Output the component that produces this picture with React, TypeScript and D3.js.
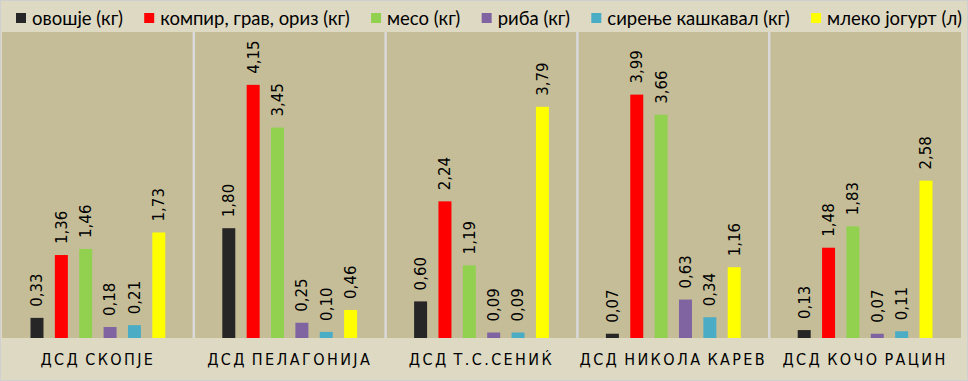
import React, { useEffect, useRef } from "react";
import * as d3 from "d3";

const categories = ["ДСД СКОПЈЕ", "ДСД ПЕЛАГОНИЈА", "ДСД Т.С.СЕНИЌ", "ДСД НИКОЛА КАРЕВ", "ДСД КОЧО РАЦИН"];
const seriesNames = ["овошје (кг)", "компир, грав, ориз (кг)", "месо (кг)", "риба (кг)", "сирење кашкавал (кг)", "млеко јогурт (л)"];
const seriesColors = ["#262626", "#ff0000", "#92d050", "#8064a2", "#4bacc6", "#ffff00"];
const ovoshje = [0.33, 1.8, 0.6, 0.07, 0.13];
const kompir = [1.36, 4.15, 2.24, 3.99, 1.48];
const meso = [1.46, 3.45, 1.19, 3.66, 1.83];
const riba = [0.18, 0.25, 0.09, 0.63, 0.07];
const sirenje = [0.21, 0.1, 0.09, 0.34, 0.11];
const mleko = [1.73, 0.46, 3.79, 1.16, 2.58];
const seriesValues = [ovoshje, kompir, meso, riba, sirenje, mleko];

const W = 968;
const H = 381;

export default function App() {
  const ref = useRef<SVGSVGElement>(null);
  useEffect(() => {
    document.body.style.margin = "0";
    const svg = d3.select(ref.current);
    svg.selectAll("*").remove();

    const plot = { left: 2, right: 961, top: 32, bottom: 338 };

    svg.append("rect").attr("x", 0.5).attr("y", 0.5).attr("width", W - 1).attr("height", H - 1)
      .attr("fill", "#ddd9c3").attr("stroke", "#d0d0d0");

    const x0 = d3.scaleBand<string>().domain(categories).range([plot.left, plot.right]).padding(0);
    const x1 = d3.scaleBand<string>().domain(seriesNames).range([0, x0.bandwidth()]).paddingInner(0.467).paddingOuter(1.17);
    const y = d3.scaleLinear().domain([0, 5]).range([plot.bottom, plot.top + 1]);

    svg.append("rect").attr("x", plot.left).attr("y", plot.top).attr("width", plot.right - plot.left)
      .attr("height", plot.bottom - plot.top).attr("fill", "#c4bd97");

    // separators
    svg.append("g").selectAll("line").data(categories.slice(1)).join("line")
      .attr("x1", (d) => x0(d)!).attr("x2", (d) => x0(d)!)
      .attr("y1", plot.top).attr("y2", plot.bottom)
      .attr("stroke", "#d9d9d9").attr("stroke-width", 2.5);

    const data: { cat: string; s: string; v: number; c: string }[] = [];
    categories.forEach((cat, ci) => {
      seriesNames.forEach((s, si) => {
        data.push({ cat, s, v: seriesValues[si][ci], c: seriesColors[si] });
      });
    });

    const g = svg.append("g");
    g.selectAll("rect").data(data).join("rect")
      .attr("x", (d) => x0(d.cat)! + x1(d.s)!)
      .attr("y", (d) => y(d.v))
      .attr("width", x1.bandwidth())
      .attr("height", (d) => plot.bottom - y(d.v))
      .attr("fill", (d) => d.c);

    g.selectAll("text").data(data).join("text")
      .attr("transform", (d) => `translate(${x0(d.cat)! + x1(d.s)! + x1.bandwidth() / 2},${y(d.v) - 11}) rotate(-90)`)
      .attr("dy", "0.36em")
      .attr("font-family", "DejaVu Sans")
      .attr("font-size", 15)
      .attr("fill", "#000")
      .text((d) => d.v.toFixed(2).replace(".", ","));

    // category labels
    svg.append("g").selectAll("text").data(categories).join("text")
      .attr("x", (d) => x0(d)! + x0.bandwidth() / 2)
      .attr("y", 365)
      .attr("text-anchor", "middle")
      .attr("font-family", "'Liberation Sans Narrow', 'DejaVu Sans Condensed', sans-serif")
      .attr("font-size", 16)
      .attr("letter-spacing", 2.4)
      .attr("word-spacing", -2)
      .attr("fill", "#000")
      .text((d) => d);

    // legend
    const lg = svg.append("g");
    const items = lg.selectAll("g").data(seriesNames).join("g");
    items.append("rect").attr("width", 10).attr("height", 10).attr("y", 13)
      .attr("fill", (_d, i) => seriesColors[i]);
    const texts = items.append("text").attr("x", 16).attr("y", 25)
      .attr("font-family", "Lato, sans-serif").attr("font-size", 18.5).attr("fill", "#000")
      .text((d) => d);
    const widths: number[] = [];
    texts.each(function () { widths.push((this as SVGTextElement).getComputedTextLength()); });
    const start = 16, end = 962;
    const natural = widths.reduce((a, w) => a + 16 + w, 0);
    const gap = (end - start - natural) / (seriesNames.length - 1);
    let cx = start;
    items.attr("transform", (_d, i) => {
      const t = `translate(${cx},0)`;
      cx += 16 + widths[i] + gap;
      return t;
    });
  }, []);
  return <svg ref={ref} width={W} height={H} style={{ display: "block" }} />;
}
